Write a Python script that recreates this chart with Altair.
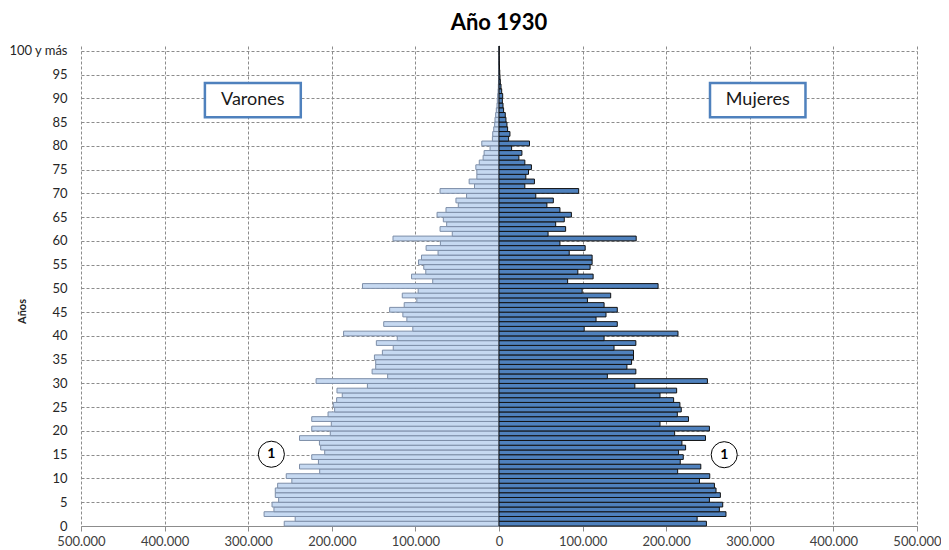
import altair as alt
import pandas as pd

ages = list(range(0, 101))
varones = [
    256900, 243800, 281000, 269200, 271500, 263600, 267600, 267600, 264800, 247800,
    254500, 214500, 238600, 216000, 224000, 208500, 213300, 214800, 238600, 201800,
    224000, 200600, 224000, 204500, 196600, 198200, 194200, 187500, 193800, 157400,
    218800, 133200, 151800, 147500, 147500, 149000, 139500, 126500, 146700, 121700,
    185900, 103100, 137900, 110200, 115000, 130800, 113400, 98300, 115700, 96700,
    163300, 79300, 104600, 87600, 90000, 96300, 92700, 72900, 87200, 70100,
    126800, 55900, 70500, 62600, 66600, 74100, 63400, 48700, 51500, 38800,
    70500, 29300, 35700, 26500, 26500, 27700, 23600, 19000, 17800, 10700,
    20600, 7900, 7500, 6300, 5200, 4800, 4000, 3200, 2400, 2000,
    1600, 1100, 800, 600, 400, 300, 200, 150, 100, 80,
    100,
]
mujeres = [
    248100, 237000, 271500, 263600, 267600, 251700, 264800, 259600, 257700, 239800,
    252100, 213700, 241400, 216800, 220400, 214800, 223200, 218800, 247000, 210100,
    251700, 192600, 226700, 213300, 218000, 216400, 208900, 192600, 212500, 162500,
    249300, 129600, 163700, 153000, 158600, 160900, 160900, 137600, 163700, 125700,
    214100, 101900, 141500, 116100, 128000, 141500, 125700, 105800, 133600, 99500,
    190300, 82100, 112600, 94300, 109000, 111400, 111400, 84000, 103100, 72900,
    164100, 58700, 79700, 67800, 78100, 86600, 72900, 57300, 65000, 44000,
    95300, 30900, 42400, 32100, 35300, 38800, 30900, 23800, 27400, 15100,
    36500, 11500, 13100, 10300, 9500, 8300, 7500, 5500, 4800, 4000,
    4400, 3200, 2400, 1600, 1200, 900, 600, 400, 300, 200,
    300,
]

x_ticks = [-500000, -400000, -300000, -200000, -100000, 0, 100000, 200000, 300000, 400000, 500000]
y_ticks = list(range(0, 101, 5))

box_labels = ["Varones", "Mujeres"]
box_x1 = [-351800, 252400]
box_x2 = [-237100, 366600]
box_y1 = [86.0, 86.0]
box_y2 = [93.2, 93.2]
box_tx = [-294500, 309500]
box_ty = [89.6, 89.6]

circ_x = [-272300, 269400]
circ_y = [15.1, 15.0]
circ_text = ["1", "1"]

FONT = "Lato"

df_m = pd.DataFrame({"edad": ages, "valor": [-v for v in varones]})
df_m["edad2"] = df_m["edad"] + 1
df_f = pd.DataFrame({"edad": ages, "valor": mujeres})
df_f["edad2"] = df_f["edad"] + 1

x_scale = alt.Scale(domain=[-500000, 500000], nice=False)
y_scale = alt.Scale(domain=[0, 101], nice=False, zero=False)

x_axis = alt.Axis(
    values=x_ticks,
    labelExpr="replace(format(abs(datum.value), ','), ',', '.')",
    title=None,
)
y_axis = alt.Axis(
    values=y_ticks,
    labelExpr="datum.value == 100 ? '100 y más' : '' + datum.value",
    title="Años",
)


def X(field):
    return alt.X(field, type="quantitative", scale=x_scale, axis=x_axis)


def Y(field):
    return alt.Y(field, type="quantitative", scale=y_scale, axis=y_axis)


male = alt.Chart(df_m).mark_bar(
    fill="#c6d9f1", stroke="#7d8ea8", strokeWidth=1
).encode(x=X("valor"), x2=alt.datum(0), y=Y("edad"), y2="edad2:Q")

female = alt.Chart(df_f).mark_bar(
    fill="#4f81bd", stroke="#111111", strokeWidth=1
).encode(x=X("valor"), x2=alt.datum(0), y=Y("edad"), y2="edad2:Q")

df_box = pd.DataFrame({
    "label": box_labels, "x1": box_x1, "x2": box_x2,
    "y1": box_y1, "y2": box_y2, "tx": box_tx, "ty": box_ty,
})
boxes = alt.Chart(df_box).mark_rect(
    fill="white", stroke="#4f81bd", strokeWidth=2.5
).encode(x=X("x1"), x2="x2:Q", y=Y("y1"), y2="y2:Q")

box_text = alt.Chart(df_box).mark_text(
    font=FONT, fontSize=18, color="#1a1a1a", align="center", baseline="middle"
).encode(x=X("tx"), y=Y("ty"), text="label:N")

df_c = pd.DataFrame({"x": circ_x, "y": circ_y, "t": circ_text})
circles = alt.Chart(df_c).mark_point(
    shape="circle", size=680, filled=True, fill="white", stroke="black",
    strokeWidth=1, opacity=1, fillOpacity=1
).encode(x=X("x"), y=Y("y"))

circ_lbl = alt.Chart(df_c).mark_text(
    font=FONT, fontSize=14, fontWeight="bold", color="black",
    align="center", baseline="middle"
).encode(x=X("x"), y=Y("y"), text="t:N")

chart = alt.layer(male, female, boxes, box_text, circles, circ_lbl).properties(
    width=836,
    height=480,
    autosize=alt.AutoSizeParams(type="none"),
    padding={"left": 73, "top": 38, "right": 24, "bottom": 24},
    title=alt.TitleParams(
        "Año 1930", font=FONT, fontSize=22, fontWeight="bold", color="#000000",
        anchor="middle", offset=10,
    ),
).configure(background="white").configure_view(stroke=None).configure_axis(
    grid=True, gridDash=[3, 2], gridColor="#8c8c8c", gridWidth=1,
    labelFont=FONT, labelOverlap=False, labelFlush=False,
).configure_axisX(
    domain=True, domainColor="#8c8c8c", ticks=True, tickColor="#8c8c8c", tickSize=5,
    labelFontSize=13, labelColor="#404040", labelPadding=4,
).configure_axisY(
    domain=False, ticks=False,
    labelFontSize=13, labelColor="#262626", labelPadding=14,
    titleFont=FONT, titleFontSize=11, titleFontWeight="bold",
    titleColor="#262626", titleX=-59, titleY=265, titleAngle=-90,
    titleAlign="center", titleBaseline="middle",
)

chart.save("out.html", embed_options={"renderer": "svg", "actions": False})
